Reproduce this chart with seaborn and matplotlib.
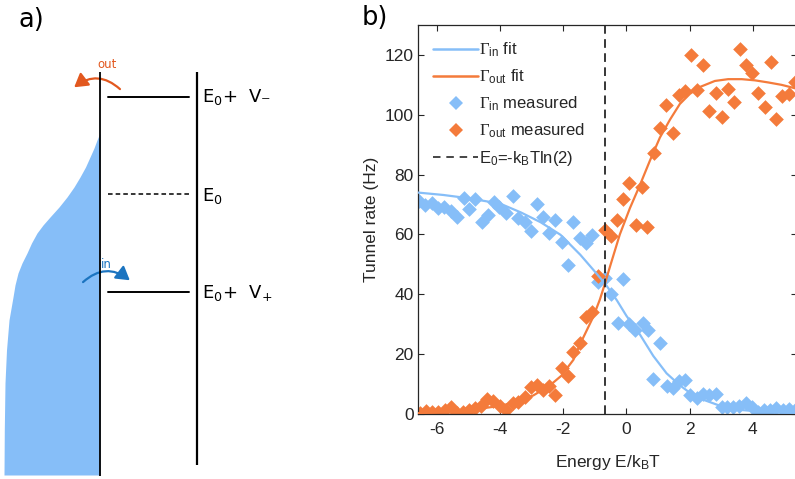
import numpy as np
import pandas as pd
import matplotlib
matplotlib.use("Agg")
import matplotlib.pyplot as plt
import seaborn as sns
from matplotlib.lines import Line2D
from matplotlib.patches import FancyArrowPatch

# ---- measured tunnel rates (Hz) vs detuning E/kBT ----
energy_in = [-6.56, -6.37, -6.16, -5.97, -5.77, -5.55, -5.37, -5.13, -4.97, -4.78,
             -4.57, -4.39, -4.18, -4.03, -3.81, -3.60, -3.42, -3.21, -3.02, -2.84,
             -2.63, -2.44, -2.26, -2.05, -1.84, -1.68, -1.47, -1.28, -1.10, -0.89,
             -0.68, -0.50, -0.26, -0.12, 0.09, 0.27, 0.51, 0.69, 0.85, 1.06,
             1.27, 1.46, 1.67, 1.85, 2.01, 2.24, 2.43, 2.62, 2.83, 3.01,
             3.19, 3.38, 3.57, 3.78, 3.96, 4.17, 4.35, 4.56, 4.75, 4.96,
             5.15, 5.33]
rate_in = [71.3, 69.9, 70.5, 68.8, 69.1, 68.0, 66.0, 72.1, 68.5, 71.8,
           64.3, 66.6, 71.0, 69.3, 67.1, 72.7, 65.5, 64.3, 61.2, 70.2,
           66.0, 60.6, 64.9, 57.6, 49.8, 64.0, 58.8, 57.1, 59.9, 44.2,
           45.4, 40.1, 30.3, 45.1, 30.1, 28.1, 30.5, 28.1, 11.6, 23.8,
           9.4, 8.6, 11.1, 11.4, 6.4, 5.3, 6.6, 6.4, 6.6, 2.2,
           2.4, 2.2, 2.7, 3.8, 2.4, 0.8, 1.3, 1.3, 1.9, 1.3,
           1.6, 1.5]

energy_out = [-6.53, -6.34, -6.16, -5.96, -5.74, -5.56, -5.37, -5.18, -4.97, -4.79,
              -4.60, -4.41, -4.22, -4.00, -3.81, -3.60, -3.42, -3.21, -3.02, -2.84,
              -2.63, -2.44, -2.26, -2.05, -1.84, -1.68, -1.47, -1.28, -1.10, -0.89,
              -0.68, -0.49, -0.31, -0.11, 0.09, 0.30, 0.50, 0.66, 0.87, 1.06,
              1.26, 1.46, 1.66, 1.84, 2.03, 2.22, 2.43, 2.62, 2.83, 3.01,
              3.20, 3.40, 3.59, 3.79, 3.99, 4.17, 4.38, 4.57, 4.75, 4.94,
              5.15, 5.33]
rate_out = [0.4, 1.1, 0.8, 0.8, 1.3, 2.4, 0.4, 0.8, 1.3, 1.9,
            2.7, 4.9, 4.4, 2.7, 1.3, 3.6, 4.1, 5.6, 8.9, 9.7,
            8.0, 9.4, 6.4, 15.3, 12.7, 20.8, 23.8, 32.5, 34.2, 46.2,
            61.4, 59.5, 64.8, 71.8, 77.2, 63.0, 76.0, 62.5, 87.2, 95.6,
            103.2, 93.9, 106.7, 108.1, 120.1, 108.4, 116.6, 101.1, 107.2, 99.2,
            108.6, 104.4, 121.9, 116.7, 114.1, 107.3, 102.6, 117.8, 98.7, 106.3,
            106.9, 111.1]

# ---- fitted rates ----
fit_in_energy = [-6.6, -5.8, -5.0, -4.0, -3.35, -2.72, -2.09, -1.46, -1.05, -0.68,
                 -0.31, 0.0, 0.43, 0.85, 1.06, 1.27, 1.69, 2.12, 2.32, 2.95,
                 3.58, 4.22, 5.4]
fit_in_rate = [74.0, 73.2, 72.1, 70.3, 67.4, 64.1, 59.9, 53.2, 48.2, 43.6,
               38.1, 32.8, 26.5, 19.4, 16.5, 13.6, 9.6, 6.2, 5.2, 2.8,
               1.4, 0.8, 0.4]
fit_out_energy = [-6.6, -5.06, -4.0, -3.5, -2.95, -2.43, -2.06, -1.68, -1.47, -1.05,
                  -0.84, -0.68, -0.52, -0.21, 0.11, 0.43, 0.74, 1.06, 1.38, 1.69,
                  2.01, 2.33, 2.80, 3.22, 3.65, 4.07, 4.49, 4.91, 5.4]
fit_out_rate = [0.3, 1.2, 2.7, 4.0, 6.2, 9.5, 12.8, 18.1, 23.3, 32.5,
                38.3, 43.6, 49.3, 60.0, 68.8, 76.6, 84.6, 92.4, 98.4, 103.6,
                107.0, 109.3, 111.3, 111.9, 111.9, 111.5, 110.8, 110.0, 108.7]

x_ticks = [-6, -4, -2, 0, 2, 4]
y_ticks = [0, 20, 40, 60, 80, 100, 120]

# ---- panel a: occupied lead states (figure pixel units) ----
occ_y = [133, 140, 148, 157, 167, 177, 187, 197, 207, 217, 225, 233, 243, 253,
         263, 273, 285, 297, 320, 350, 383, 430, 475]
occ_x = [100, 97, 94, 90, 85.5, 80, 74, 67, 59, 50, 43, 37, 31.5, 27,
         22, 18, 15, 13, 9, 6.5, 5, 4.3, 4]

BLUE = "#86BEF8"
ORANGE = "#F47B3B"
INK = "#262626"

sns.set_theme(style="ticks")
plt.rcParams.update({
    "font.family": ["Liberation Sans", "DejaVu Sans"],
    "mathtext.fontset": "custom",
    "mathtext.rm": "Liberation Serif",
    "mathtext.sf": "Liberation Sans",
    "mathtext.it": "Liberation Sans:italic",
    "axes.unicode_minus": False,
})

fig = plt.figure(figsize=(7.95, 4.79), dpi=100)

# ---------------- panel a: energy diagram ----------------
ax_a = fig.add_axes([0, 0, 1, 1])
ax_a.set_xlim(0, 795)
ax_a.set_ylim(479, 0)
ax_a.axis("off")
ax_a.patch.set_alpha(0)

ax_a.fill_betweenx(occ_y, occ_x, 100, color=BLUE, lw=0)
ax_a.plot([100, 100], [72, 476], color="black", lw=1.3, solid_capstyle="butt")
ax_a.plot([196.5, 196.5], [72, 465], color="black", lw=1.6, solid_capstyle="butt")
ax_a.plot([108, 189], [96.7, 96.7], color="black", lw=1.4)
ax_a.plot([108, 189], [194, 194], color="black", lw=1.1, ls=(0, (3, 2)))
ax_a.plot([108, 189], [291.7, 291.7], color="black", lw=1.4)

lvl_font = dict(family="DejaVu Sans", fontsize=13, color="black", va="center", ha="left")
ax_a.text(202, 97, "E$_\\mathregular{0}$+  V\u208b", **lvl_font)
ax_a.text(202, 196, r"E$_\mathregular{0}$", **lvl_font)
ax_a.text(202, 293, r"E$_\mathregular{0}$+  V$_\mathregular{+}$", **lvl_font)

ax_a.text(107, 64, "out", family="DejaVu Sans", fontsize=8.5, color="#E2581F",
          ha="center", va="center")
ax_a.text(106, 264, "in", family="DejaVu Sans", fontsize=8.5, color="#1B74C0",
          ha="center", va="center")
ax_a.add_patch(FancyArrowPatch((122, 91), (72, 89), connectionstyle="arc3,rad=0.45",
                               arrowstyle="-|>,head_length=5,head_width=3",
                               color="#E2581F", lw=1.6, mutation_scale=1.6))
ax_a.add_patch(FancyArrowPatch((81, 284), (132, 282), connectionstyle="arc3,rad=-0.45",
                               arrowstyle="-|>,head_length=5,head_width=3",
                               color="#1B74C0", lw=1.6, mutation_scale=1.6))

ax_a.text(18, 20, "a)", family="DejaVu Sans", fontsize=18.5, color="black",
          ha="left", va="center")
ax_a.text(362, 18, "b)", family="DejaVu Sans", fontsize=18.5, color="black",
          ha="left", va="center")

# ---------------- panel b: tunnel rates ----------------
ax = fig.add_axes([418 / 795, 65 / 479, 379 / 795, 389 / 479])

df_in = pd.DataFrame({"E": energy_in, "rate": rate_in})
df_out = pd.DataFrame({"E": energy_out, "rate": rate_out})
fit_in = pd.DataFrame({"E": fit_in_energy, "rate": fit_in_rate})
fit_out = pd.DataFrame({"E": fit_out_energy, "rate": fit_out_rate})

sns.lineplot(data=fit_in, x="E", y="rate", color=BLUE, lw=1.6, sort=False, ax=ax, zorder=3)
sns.lineplot(data=fit_out, x="E", y="rate", color=ORANGE, lw=1.6, sort=False, ax=ax, zorder=3)
sns.scatterplot(data=df_in, x="E", y="rate", color=BLUE, marker="D", s=56,
                linewidth=0, ax=ax, zorder=2)
sns.scatterplot(data=df_out, x="E", y="rate", color=ORANGE, marker="D", s=56,
                linewidth=0, ax=ax, zorder=2)
ax.axvline(-np.log(2), color=INK, lw=1.3, ls=(0, (4.8, 3.0)), zorder=4)

ax.set_xlim(-6.6, 5.4)
ax.set_ylim(0, 130)
ax.set_xticks(x_ticks)
ax.set_yticks(y_ticks)
ax.set_xticklabels([str(v) for v in x_ticks])
ax.set_yticklabels([str(v) for v in y_ticks])
ax.tick_params(direction="in", length=4, width=0.8, color=INK, labelcolor=INK,
               labelsize=12.5, top=True, right=True)
ax.tick_params(axis="x", pad=6)
ax.tick_params(axis="y", pad=3)
for sp in ax.spines.values():
    sp.set_visible(True)
    sp.set_color(INK)
    sp.set_linewidth(0.9)
ax.set_xlabel(r"Energy E/k$_\mathregular{B}$T", fontsize=12.5, color=INK, labelpad=11)
ax.set_ylabel("Tunnel rate (Hz)", fontsize=12.5, color=INK, labelpad=4)

handles = [
    Line2D([], [], color=BLUE, lw=1.8),
    Line2D([], [], color=ORANGE, lw=1.8),
    Line2D([], [], color=BLUE, marker="D", ls="none", markersize=7.5, markeredgewidth=0),
    Line2D([], [], color=ORANGE, marker="D", ls="none", markersize=7.5, markeredgewidth=0),
    Line2D([], [], color=INK, lw=1.2, ls=(0, (4.5, 3.5))),
]
labels = [
    r"$\mathrm{\Gamma}_\mathregular{in}$ fit",
    r"$\mathrm{\Gamma}_\mathregular{out}$ fit",
    r"$\mathrm{\Gamma}_\mathregular{in}$ measured",
    r"$\mathrm{\Gamma}_\mathregular{out}$ measured",
    r"E$_\mathregular{0}$=-k$_\mathregular{B}$Tln(2)",
]
ax.legend(handles, labels, loc="upper left", frameon=False, fontsize=12,
          handlelength=2.7, handletextpad=0.05, labelspacing=0.5,
          borderaxespad=0.3, bbox_to_anchor=(0.01, 0.99), labelcolor=INK)

fig.savefig("out.png", dpi=100)
